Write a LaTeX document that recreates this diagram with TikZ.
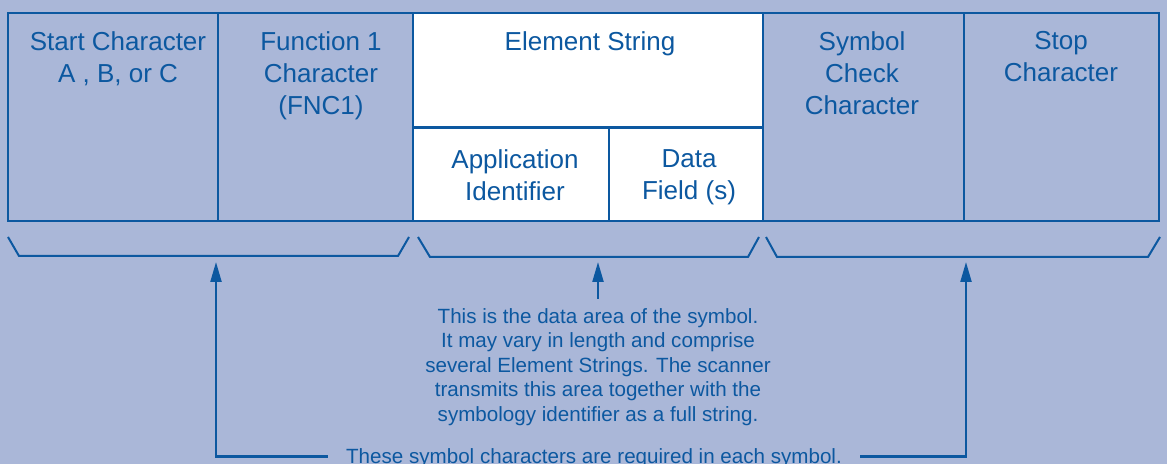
\documentclass[tikz,border=0pt]{standalone}
\usepackage{fontspec}
\setmainfont{Liberation Sans}
\usepackage{tikz}
\usetikzlibrary{arrows.meta}
\usetikzlibrary{positioning}
\definecolor{gsbg}{RGB}{170,183,216}
\definecolor{gsblue}{RGB}{12,88,160}
\tikzset{
	cell/.style={draw=gsblue, line width=1.2pt, inner sep=0pt, outer sep=0pt, anchor=north west, minimum height=104pt},
	whitecell/.style={cell, fill=white},
	head/.style={text=gsblue, font=\fontsize{13}{16}\selectfont, align=center, anchor=north, inner sep=0pt},
	note/.style={text=gsblue, font=\fontsize{10.3}{12.25}\selectfont, align=center},
	brace/.style={draw=gsblue, line width=1pt},
	pointer/.style={draw=gsblue, line width=1.1pt, -{Triangle[length=10pt,width=5.5pt]}},
}

\begin{document}
\begin{tikzpicture}[x=0.5pt, y=-0.5pt]
	\useasboundingbox[fill=gsbg] (0,0) rectangle (1167,464);
	% the symbol
	\node[cell, minimum width=105pt] (start) at (8,13) {};
	\node[cell, minimum width=97.5pt] (fnc) at (start.north east) {};
	\node[whitecell, minimum width=175pt, minimum height=57.25pt] (elem) at (fnc.north east) {};
	\node[whitecell, minimum width=98pt, minimum height=46.75pt] (ai) at (elem.south west) {};
	\node[whitecell, minimum width=77pt, minimum height=46.75pt] (data) at (ai.north east) {};
	\node[cell, minimum width=100.5pt] (check) at (elem.north east) {};
	\node[cell, minimum width=97.5pt] (stop) at (check.north east) {};
	\node[head] (starttxt) at (118,31) {Start Character\\A , B, or C};
	\node[head] (fnctxt) at (321,31) {Function 1\\Character\\(FNC1)};
	\node[head] (elemtxt) at (590,31) {Element String};
	\node[head] (aitxt) at (515,149) {Application\\Identifier};
	\node[head] (datatxt) at (689,149) {Data\\Field (s)};
	\node[head] (checktxt) at (862,31) {Symbol\\Check\\Character};
	\node[head] (stoptxt) at (1061,31) {Stop\\Character};
	% braces
	\draw[brace] (8,237) -- (19,256) -- (398,256) -- (409,237);
	\draw[brace] (418,237) -- (430,257) -- (748,257) -- (759,237);
	\draw[brace] (766,237) -- (777,257) -- (1148,257) -- (1160,237);
	\coordinate (startpeak) at (216,262);
	\coordinate (datapeak) at (598,262);
	\coordinate (stoppeak) at (966,262);
	% notes
	\node[note, anchor=north, inner sep=4.5pt] (datanote) at (598,299) {This is the data area of the symbol.\\It may vary in length and comprise\\several Element Strings. The scanner\\transmits this area together with the\\symbology identifier as a full string.};
	\node[note, anchor=base, inner xsep=9pt, text depth=0pt] (reqnote) at (594,464) {These symbol characters are required in each symbol.};
	\draw[pointer] (datanote) -- (datapeak);
	\draw[pointer] (reqnote.west) -| (startpeak);
	\draw[pointer] (reqnote.east) -| (stoppeak);
\end{tikzpicture}
\end{document}
